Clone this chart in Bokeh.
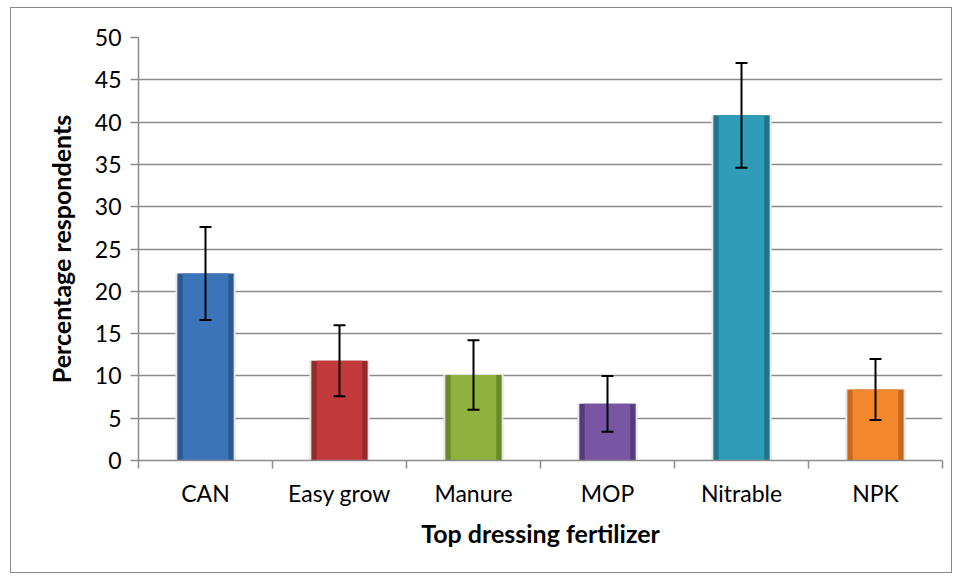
from bokeh.plotting import figure
from bokeh.models import FixedTicker, Whisker, ColumnDataSource, TeeHead
from bokeh.embed import file_html
from bokeh.resources import INLINE

categories = ["CAN", "Easy grow", "Manure", "MOP", "Nitrable", "NPK"]
percent = [22.1, 11.8, 10.1, 6.7, 40.8, 8.4]
error = [5.5, 4.2, 4.1, 3.3, 6.2, 3.6]
colors = ["#3b74b9", "#c23a3c", "#8fb13d", "#7856a4", "#2f9db7", "#f2872c"]
edge_colors = ["#2b5990", "#962a2b", "#6a8a2a", "#563a80", "#1f7489", "#c8691a"]
y_ticks = [0, 5, 10, 15, 20, 25, 30, 35, 40, 45, 50]

n = len(categories)
xs = [i + 0.5 for i in range(n)]
upper = [v + e for v, e in zip(percent, error)]
lower = [v - e for v, e in zip(percent, error)]

src = ColumnDataSource(dict(x=xs, top=percent, upper=upper, lower=lower,
                            color=colors, edge=edge_colors))

FONT = "Lato"

p = figure(width=942, height=566, x_range=(0, n), y_range=(0, 50),
           output_backend="svg", toolbar_location=None,
           min_border_left=127, min_border_right=11, min_border_top=29,
           min_border_bottom=114)
p.styles = {"border": "1px solid #8a8a8a", "margin-left": "10px", "margin-top": "7px"}
p.outline_line_color = None
p.background_fill_color = "white"
p.border_fill_color = "white"

# shadow glow
p.vbar(x="x", top="top", bottom=0, width=0.45, source=src,
       fill_color="#e6e6e6", line_color=None)
# bars
p.vbar(x="x", top="top", bottom=0, width=0.42, source=src,
       fill_color="edge", line_color=None)
p.vbar(x="x", top="top", bottom=0, width=0.34, source=src,
       fill_color="color", line_color=None)

p.add_layout(Whisker(base="x", upper="upper", lower="lower", source=src,
                     level="overlay",
                     line_color="black", line_width=2,
                     upper_head=TeeHead(size=12, line_width=2, line_color="black"),
                     lower_head=TeeHead(size=12, line_width=2, line_color="black")))

# y axis
p.yaxis.ticker = FixedTicker(ticks=y_ticks)
p.yaxis.axis_line_color = "#8c8c8c"
p.yaxis.axis_line_width = 1.5
p.yaxis.major_tick_line_color = "#8c8c8c"
p.yaxis.major_tick_line_width = 1.5
p.yaxis.major_tick_out = 8
p.yaxis.major_tick_in = 0
p.yaxis.minor_tick_line_color = None
p.yaxis.major_label_text_font = FONT
p.yaxis.major_label_text_font_size = "23px"
p.yaxis.major_label_text_color = "black"
p.yaxis.major_label_standoff = 9
p.yaxis.axis_label = "Percentage respondents"
p.yaxis.axis_label_text_font = FONT
p.yaxis.axis_label_text_font_style = "bold"
p.yaxis.axis_label_text_font_size = "25px"
p.yaxis.axis_label_text_color = "black"
p.yaxis.axis_label_standoff = 16

# x axis
p.xaxis.ticker = FixedTicker(ticks=xs, minor_ticks=list(range(n + 1)))
p.xaxis.major_label_overrides = {x: c for x, c in zip(xs, categories)}
p.xaxis.major_tick_line_color = None
p.xaxis.minor_tick_line_color = "#8c8c8c"
p.xaxis.minor_tick_line_width = 1.5
p.xaxis.minor_tick_out = 8
p.xaxis.minor_tick_in = 0
p.xaxis.axis_line_color = "#8c8c8c"
p.xaxis.axis_line_width = 1.5
p.xaxis.major_label_text_font = FONT
p.xaxis.major_label_text_font_size = "23px"
p.xaxis.major_label_text_color = "black"
p.xaxis.major_label_standoff = 10
p.xaxis.axis_label = "Top dressing fertilizer"
p.xaxis.axis_label_text_font = FONT
p.xaxis.axis_label_text_font_style = "bold"
p.xaxis.axis_label_text_font_size = "25px"
p.xaxis.axis_label_text_color = "black"
p.xaxis.axis_label_standoff = 8

p.xgrid.grid_line_color = None
p.ygrid.ticker = FixedTicker(ticks=y_ticks)
p.ygrid.grid_line_color = "#8c8c8c"
p.ygrid.grid_line_width = 1.5
p.ygrid.level = "underlay"

open("out.html", "w").write(file_html(p, INLINE))
